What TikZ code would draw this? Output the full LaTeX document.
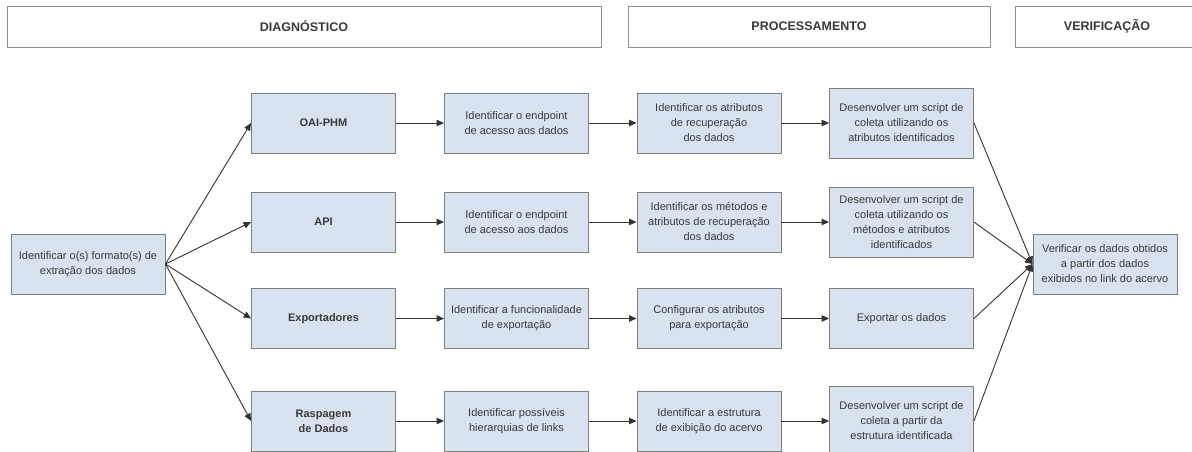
\documentclass[tikz,border=0pt]{standalone}
\usepackage{fontspec}
\setmainfont{Liberation Sans}
\usetikzlibrary{arrows.meta}
\definecolor{boxfill}{HTML}{D9E2EF}
\definecolor{boxline}{HTML}{7E7E7E}
\definecolor{ink}{HTML}{3A3A3A}
\definecolor{wire}{HTML}{333333}
\definecolor{phaseline}{HTML}{8E8E8E}
\begin{document}
\begin{tikzpicture}[x=1pt,y=-1pt,
  stepbox/.style={draw=boxline, fill=boxfill, line width=0.9pt,
    minimum width=144pt, minimum height=60pt, inner sep=1pt,
    align=center, text=ink, font=\fontsize{11}{15}\selectfont},
  tallbox/.style={stepbox, minimum height=70pt},
  kindbox/.style={stepbox, font=\bfseries\fontsize{11}{15}\selectfont},
  phasebox/.style={draw=phaseline, line width=0.8pt, minimum height=41pt,
    text=ink, font=\bfseries\fontsize{12.5}{15}\selectfont},
  flow/.style={draw=wire, line width=0.9pt,
    -{Triangle[length=7.5pt,width=6.5pt]}}]
\useasboundingbox (0,0) rectangle (1192,452);

% phase headers
\node[phasebox, minimum width=594pt] (hdiag) at (304,26.5) {DIAGNÓSTICO};
\node[phasebox, minimum width=362pt] (hproc) at (809,26.5) {PROCESSAMENTO};
\node[phasebox, minimum width=184pt] (hverif) at (1107,26.5) {VERIFICAÇÃO};

% starting point
\node[stepbox, minimum width=154pt] (start) at (88,264)
  {Identificar o(s) formato(s) de\\extração dos dados};

% row 1: OAI-PHM
\node[kindbox] (k1) at (323.5,123) {OAI-PHM};
\node[stepbox] (a1) at (516.5,123) {Identificar o endpoint\\de acesso aos dados};
\node[stepbox] (b1) at (709,123) {Identificar os atributos\\de recuperação\\dos dados};
\node[tallbox] (c1) at (901.5,123) {Desenvolver um script de\\coleta utilizando os\\atributos identificados};

% row 2: API
\node[kindbox] (k2) at (323.5,222) {API};
\node[stepbox] (a2) at (516.5,222) {Identificar o endpoint\\de acesso aos dados};
\node[stepbox] (b2) at (709,222) {Identificar os métodos e\\atributos de recuperação\\dos dados};
\node[tallbox] (c2) at (901.5,222) {Desenvolver um script de\\coleta utilizando os\\métodos e atributos\\identificados};

% row 3: exporters
\node[kindbox] (k3) at (323.5,318.5) {Exportadores};
\node[stepbox] (a3) at (516.5,318.5) {Identificar a funcionalidade\\de exportação};
\node[stepbox] (b3) at (709,318.5) {Configurar os atributos\\para exportação};
\node[stepbox] (c3) at (901.5,318.5) {Exportar os dados};

% row 4: scraping
\node[kindbox] (k4) at (323.5,421) {Raspagem\\de Dados};
\node[stepbox] (a4) at (516.5,421) {Identificar possíveis\\hierarquias de links};
\node[stepbox] (b4) at (709,421) {Identificar a estrutura\\de exibição do acervo};
\node[tallbox] (c4) at (901.5,421) {Desenvolver um script de\\coleta a partir da\\estrutura identificada};

% final check
\node[stepbox] (verif) at (1105,264)
  {Verificar os dados obtidos\\a partir dos dados\\exibidos no link do acervo};

% connectors
\foreach \r in {1,2,3,4}{
  \draw[flow] (start.east) -- (k\r.west);
  \draw[flow] (k\r.east) -- (a\r.west);
  \draw[flow] (a\r.east) -- (b\r.west);
  \draw[flow] (b\r.east) -- (c\r.west);
  \draw[flow] (c\r.east) -- (verif.west);
}
\end{tikzpicture}
\end{document}
